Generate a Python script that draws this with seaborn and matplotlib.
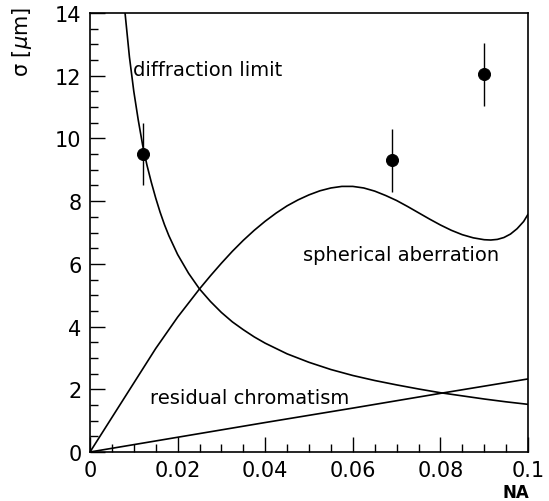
import numpy as np
import pandas as pd
import matplotlib
matplotlib.use("Agg")
import matplotlib.pyplot as plt
import seaborn as sns
from matplotlib.ticker import MultipleLocator

# ---- data ----
diff_x = [0.008, 0.009, 0.010, 0.011, 0.012, 0.013, 0.014, 0.015, 0.016, 0.017,
          0.018, 0.019, 0.020, 0.0225, 0.025, 0.0275, 0.030, 0.0325, 0.035, 0.0375,
          0.040, 0.045, 0.050, 0.055, 0.060, 0.065, 0.070, 0.075, 0.080, 0.085,
          0.090, 0.095, 0.100]
diff_y = [14.0, 12.6, 11.5, 10.6, 9.8, 9.15, 8.6, 8.1, 7.65, 7.25,
          6.9, 6.6, 6.3, 5.7, 5.2, 4.8, 4.45, 4.15, 3.9, 3.67,
          3.47, 3.13, 2.86, 2.63, 2.44, 2.28, 2.14, 2.01, 1.89, 1.79,
          1.69, 1.6, 1.52]

sph_x = [0.000, 0.005, 0.010, 0.015, 0.020, 0.025, 0.0275, 0.030, 0.0325, 0.035,
         0.0375, 0.040, 0.0425, 0.045, 0.0475, 0.050, 0.0525, 0.055, 0.0575, 0.060,
         0.0625, 0.065, 0.0675, 0.070, 0.0725, 0.075, 0.0775, 0.080, 0.0825, 0.085,
         0.0875, 0.090, 0.0915, 0.093, 0.0945, 0.096, 0.0975, 0.099, 0.100]
sph_y = [0.0, 1.1, 2.2, 3.3, 4.3, 5.2, 5.62, 6.02, 6.4, 6.75,
         7.07, 7.36, 7.62, 7.85, 8.04, 8.2, 8.33, 8.42, 8.47, 8.47,
         8.42, 8.32, 8.18, 8.02, 7.83, 7.63, 7.43, 7.24, 7.07, 6.93,
         6.83, 6.77, 6.76, 6.78, 6.84, 6.95, 7.12, 7.35, 7.58]

chrom_x = [0.0, 0.02, 0.04, 0.06, 0.08, 0.10]
chrom_y = [0.0, 0.47, 0.94, 1.40, 1.87, 2.33]

meas_x = [0.012, 0.069, 0.090]
meas_y = [9.5, 9.3, 12.05]
meas_err = [1.0, 1.0, 1.0]

x_ticks = [0, 0.02, 0.04, 0.06, 0.08, 0.1]
x_tick_labels = ["0", "0.02", "0.04", "0.06", "0.08", "0.1"]
y_ticks = [0, 2, 4, 6, 8, 10, 12, 14]
y_tick_labels = ["0", "2", "4", "6", "8", "10", "12", "14"]

curves = pd.concat([
    pd.DataFrame({"NA": diff_x, "sigma": diff_y, "curve": "diffraction limit"}),
    pd.DataFrame({"NA": sph_x, "sigma": sph_y, "curve": "spherical aberration"}),
    pd.DataFrame({"NA": chrom_x, "sigma": chrom_y, "curve": "residual chromatism"}),
], ignore_index=True)
points = pd.DataFrame({"NA": meas_x, "sigma": meas_y, "err": meas_err})

# ---- plot ----
sns.set_style("ticks")
plt.rcParams["font.family"] = ["DejaVu Sans"]
plt.rcParams["text.color"] = "black"
plt.rcParams["axes.labelcolor"] = "black"
plt.rcParams["xtick.color"] = "black"
plt.rcParams["ytick.color"] = "black"

fig = plt.figure(figsize=(5.49, 5.02), dpi=100)
ax = fig.add_axes([90 / 549, 1 - 453 / 502, (528 - 90) / 549, (453 - 14) / 502])

sns.lineplot(data=curves, x="NA", y="sigma", units="curve", estimator=None,
             sort=False, color="black", linewidth=1.2, ax=ax, legend=False)
ax.errorbar(points["NA"], points["sigma"], yerr=points["err"], fmt="none",
            ecolor="black", elinewidth=1.0, capsize=0)
sns.scatterplot(data=points, x="NA", y="sigma", color="black", s=75,
                edgecolor="black", ax=ax, legend=False, zorder=5)

ax.set_xlim(0, 0.1)
ax.set_ylim(0, 14)
ax.set_xticks(x_ticks)
ax.set_xticklabels(x_tick_labels)
ax.set_yticks(y_ticks)
ax.set_yticklabels(y_tick_labels)
ax.xaxis.set_minor_locator(MultipleLocator(0.005))
ax.yaxis.set_minor_locator(MultipleLocator(0.5))
ax.tick_params(which="major", direction="in", length=11, width=1.0,
               labelsize=15, pad=6, top=False, right=False,
               colors="black", labelcolor="black")
ax.tick_params(which="minor", direction="in", length=6, width=1.0,
               top=False, right=False, colors="black")
ax.set_xlabel("")
ax.set_ylabel("")
for s in ax.spines.values():
    s.set_linewidth(1.2)
    s.set_color("black")

fig.text(22 / 549, 1 - 42 / 502, r"σ [$\mu$m]", rotation=90, fontsize=15,
         ha="center", va="center", color="black")
fig.text(516 / 549, 1 - 493 / 502, "NA", fontsize=12, fontweight="bold",
         ha="center", va="center", color="black")

ax.text(0.0098, 12.2, "diffraction limit", fontsize=14, va="center", ha="left", color="black")
ax.text(0.0487, 6.3, "spherical aberration", fontsize=14, va="center", ha="left", color="black")
ax.text(0.0138, 1.75, "residual chromatism", fontsize=14, va="center", ha="left", color="black")

fig.savefig("out.png", dpi=100)
